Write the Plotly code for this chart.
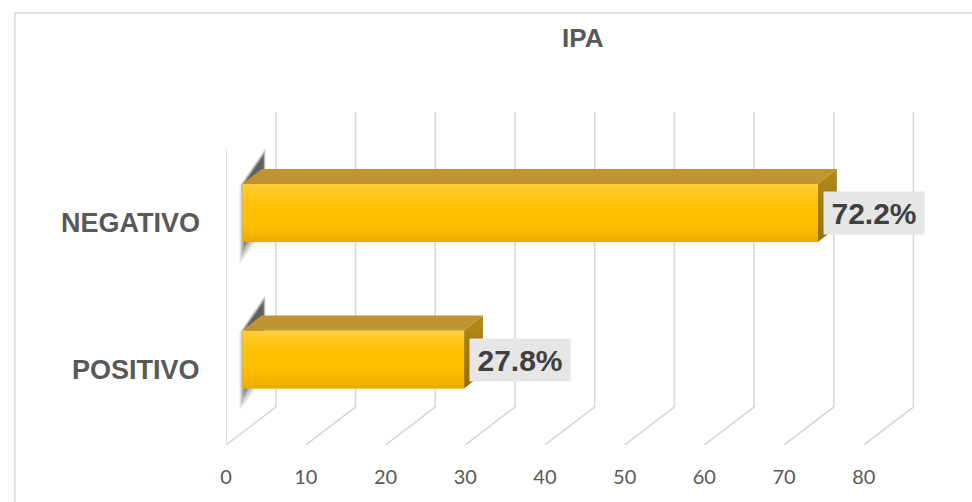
import plotly.graph_objects as go

# ---------------- data ----------------
categories = ["POSITIVO", "NEGATIVO"]
values = [27.8, 72.2]
value_labels = ["27.8%", "72.2%"]
tick_values = [0, 10, 20, 30, 40, 50, 60, 70, 80]
title_text = "IPA"

# ---------------- geometry (pixel based layout) ----------------
W, H = 972, 502
X0_PX = 221.5        # pixel of value 0 on the front floor edge
PPU = 8.02           # pixels per value unit
CAT0_PX = 359.5      # pixel of first category centre (front face)
PPC = 146.5          # pixels per category step
FLOOR_PX = 445       # front floor edge

ux = lambda p: p / PPU
uy = lambda p: p / PPC

x_range = [0, (W - X0_PX) / PPU]
y_domain = [1 - FLOOR_PX / H, 1]
y_range = [(CAT0_PX - FLOOR_PX) / PPC, CAT0_PX / PPC]

BAR_BASE = ux(16.5)      # bar front face starts in from the front wall edge
BAR_W = uy(58)
DX, DY = ux(19), uy(15)  # bar depth
WALL_DX, WALL_DY = ux(50), uy(38)   # back wall offset
Y_TOP = (CAT0_PX - 112) / PPC
Y_BACK = y_range[0] + WALL_DY
Y_FLOOR = y_range[0]

GRID = "#D9D9D9"
ypos = list(range(len(categories)))

fig = go.Figure()

# bars (front faces)
fig.add_trace(go.Bar(
    orientation="h", y=ypos, x=values, base=BAR_BASE, width=BAR_W,
    marker=dict(color="#FFC000", line=dict(width=0)),
    hoverinfo="skip", showlegend=False,
))

# gradient overlay on the front faces
for y, v in zip(ypos, values):
    x0, x1 = BAR_BASE, BAR_BASE + v
    yb, yt = y - BAR_W / 2, y + BAR_W / 2
    fig.add_trace(go.Scatter(
        x=[x0, x1, x1, x0, x0], y=[yb, yb, yt, yt, yb], mode="lines",
        line=dict(width=0), fill="toself",
        fillgradient=dict(type="vertical", colorscale=[
            [0, "rgba(214,150,0,0.55)"], [0.45, "rgba(255,192,0,0)"],
            [1, "rgba(255,220,110,0.55)"]]),
        hoverinfo="skip", showlegend=False,
    ))

# top faces
for y, v in zip(ypos, values):
    x0, x1 = BAR_BASE, BAR_BASE + v
    yt = y + BAR_W / 2
    fig.add_trace(go.Scatter(
        x=[x0, x1, x1 + DX, x0 + DX, x0], y=[yt, yt, yt + DY, yt + DY, yt],
        mode="lines", line=dict(width=0), fill="toself", fillcolor="#BF9431",
        hoverinfo="skip", showlegend=False,
    ))

# side faces
for y, v in zip(ypos, values):
    x1 = BAR_BASE + v
    yb, yt = y - BAR_W / 2, y + BAR_W / 2
    fig.add_trace(go.Scatter(
        x=[x1, x1 + DX, x1 + DX, x1, x1], y=[yt, yt + DY, yb + DY, yb, yt],
        mode="lines", line=dict(width=0), fill="toself",
        fillgradient=dict(type="vertical", colorscale=[
            [0, "#94700A"], [1, "#B38A1C"]]),
        hoverinfo="skip", showlegend=False,
    ))

shapes = []
# back-wall gridlines with floor diagonals
for t in tick_values:
    xb = t + WALL_DX
    shapes.append(dict(
        type="path", xref="x", yref="y", layer="below",
        path=f"M {xb},{Y_TOP} L {xb},{Y_BACK} L {t},{Y_FLOOR}",
        line=dict(color=GRID, width=1.6)))
# front edge of the side wall
shapes.append(dict(type="line", xref="x", yref="y", layer="below",
                   x0=0, x1=0, y0=Y_TOP - WALL_DY, y1=Y_FLOOR,
                   line=dict(color=GRID, width=1.6)))

# soft shadows of the bars on the side wall (pixel offsets from the bar's front face)
for y in ypos:
    yt, yb = y + BAR_W / 2, y - BAR_W / 2
    for k, op in [(0, 0.12), (1, 0.16), (2, 0.22), (3, 0.28), (4, 0.34)]:
        s = k * 2.5
        xl = BAR_BASE + ux(-3 + s * 0.6)
        xr = BAR_BASE + ux(23 - s * 0.2)
        p = (f"M {xl},{yt - uy(2) + uy(s * 0.4)} "
             f"L {xr},{yt + uy(36) - uy(s * 0.8)} "
             f"L {xr},{yb + uy(14) + uy(s * 1.6)} "
             f"L {xl},{yb - uy(22) + uy(s * 2.4)} Z")
        shapes.append(dict(type="path", xref="x", yref="y", layer="below",
                           path=p, fillcolor=f"rgba(35,35,35,{op})",
                           line=dict(width=0)))

# outer chart border
shapes.append(dict(type="rect", xref="paper", yref="paper",
                   x0=9 / W, x1=1.02, y0=-0.02, y1=1 - 13 / H,
                   line=dict(color="#D9D9D9", width=1.5)))

annotations = []
# value labels
for y, v, lab in zip(ypos, values, value_labels):
    annotations.append(dict(
        x=BAR_BASE + v, y=y, xref="x", yref="y", xanchor="left", yanchor="middle",
        xshift=5, text=f"<b>{lab}</b>", showarrow=False,
        font=dict(family="Liberation Sans, Arial", size=30, color="#404040"),
        bgcolor="#E6E6E6", width=92, height=34, borderpad=4, align="center"))
# category labels
for y, c in zip(ypos, categories):
    annotations.append(dict(
        x=197 / W, y=y - uy(10), xref="paper", yref="y", xanchor="right",
        yanchor="middle", text=f"<b>{c}</b>", showarrow=False,
        font=dict(family="Liberation Sans, Arial", size=27, color="#595959")))
# title
annotations.append(dict(
    x=581 / W, y=1 - 38 / H, xref="paper", yref="paper", xanchor="center",
    yanchor="middle", text=f"<b>{title_text}</b>", showarrow=False,
    font=dict(family="Liberation Sans, Arial", size=26, color="#595959")))

fig.update_layout(
    width=W, height=H, margin=dict(l=0, r=0, t=0, b=0),
    paper_bgcolor="white", plot_bgcolor="rgba(0,0,0,0)",
    barmode="overlay", showlegend=False,
    xaxis=dict(domain=[X0_PX / W, 1], range=x_range, tickvals=tick_values,
               showgrid=False, zeroline=False, showline=False,
               ticks="outside", ticklen=14, tickcolor="rgba(0,0,0,0)",
               tickfont=dict(family="Lato", size=20, color="#595959"),
               fixedrange=True),
    yaxis=dict(domain=y_domain, range=y_range, showticklabels=False,
               showgrid=False, zeroline=False, showline=False, fixedrange=True),
    shapes=shapes, annotations=annotations,
)

fig.write_html(
    "out.html",
    config={"displayModeBar": False},
    post_script="document.body.style.margin='0';document.body.style.overflow='hidden';",
)
